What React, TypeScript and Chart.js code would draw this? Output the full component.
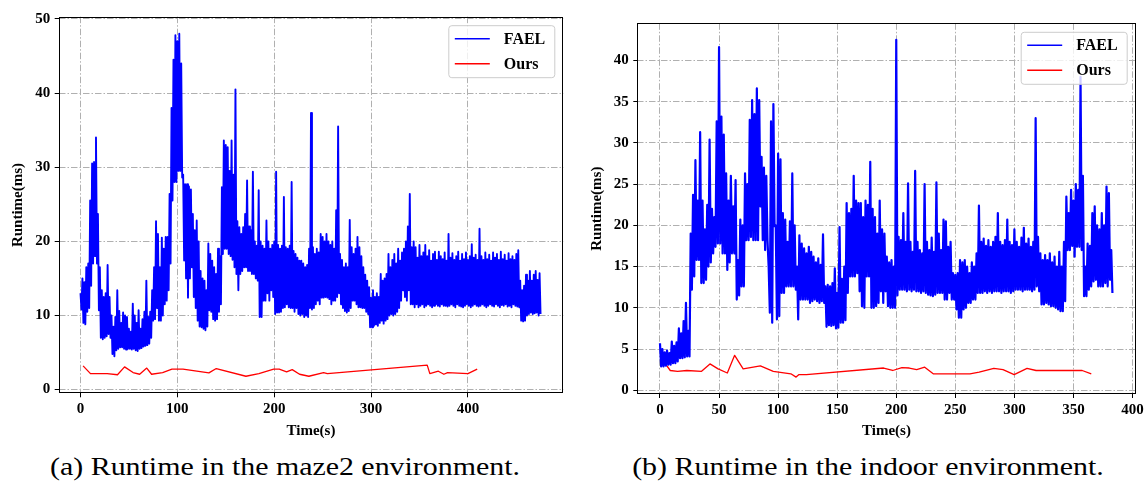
import React, { useEffect, useRef } from "react";
import { Chart, registerables } from "chart.js";

Chart.register(...registerables);

// ---------- Shared labels ----------
const seriesLabels = ["FAEL", "Ours"];
const xAxisTitle = "Time(s)";
const yAxisTitle = "Runtime(ms)";
const captions = [
  "(a) Runtime in the maze2 environment.",
  "(b) Runtime in the indoor environment.",
];

// ---------- Panel (a): maze2 ----------
const mazeStep = 2; // seconds between successive high readings of FAEL
const mazeFaelHigh = [
  13, 15, 14.5, 16.5, 17, 25.5, 30.5, 30.7, 34, 23.7,
  16.5, 13.4, 12.5, 13, 16.8, 12.5, 10, 8.5, 9.8, 13.4,
  10.6, 9, 10.4, 10, 9.8, 8.2, 7.8, 11.6, 10, 9,
  10.7, 8.2, 9.5, 10.5, 14.7, 9.8, 10.5, 13.4, 16.5, 22.7,
  21, 16.5, 20.5, 19, 20.6, 20.6, 26.4, 38, 44.5, 47.8,
  47, 48, 44, 29, 27.7, 27.7, 27.4, 27, 23.7, 21.5,
  22.8, 20, 16, 15, 14.7, 13.4, 19.7, 18.3, 17.4, 16.5,
  15.6, 19, 18, 27.3, 33.6, 33, 32.7, 29.5, 33.6, 29,
  40.5, 22.7, 21.9, 21, 21.9, 23.7, 28.2, 22, 21.5, 29.4,
  20, 19.4, 26.9, 20, 19.4, 19, 22.8, 20, 19, 19.5,
  20, 29.4, 19.5, 19, 19.4, 26, 19.2, 19, 19.4, 28,
  18.7, 18.3, 17.8, 17.4, 17.4, 17, 16.5, 16.8, 19, 37.3,
  19.2, 18.3, 19, 18.5, 21, 20.6, 20, 21, 20, 19.5,
  20, 19, 24.2, 35.5, 18.3, 17.5, 16.5, 17, 16.5, 22.9,
  19.2, 18.3, 19, 20.6, 19.2, 18, 16.5, 15.5, 14.7, 13.8,
  12.4, 13.4, 12.5, 13, 12.5, 15.6, 14.7, 15, 15.6, 18.3,
  16.5, 17.5, 18.3, 17, 19, 17.4, 18.5, 19, 20, 22,
  26.4, 19.2, 20, 19.2, 17.8, 19.5, 18, 18.5, 19.5, 18,
  18.8, 17.4, 18.3, 18.6, 17.5, 18.6, 18, 17.6, 18.5, 17.4,
  21, 17.8, 18.4, 17.5, 18, 18.6, 17.4, 18.3, 17.6, 18.5,
  17.5, 18, 19.6, 17.8, 18.2, 17.5, 21.7, 18, 17.5, 18.5,
  17.6, 18.2, 17.4, 18.5, 17.8, 18.3, 17.5, 18.6, 17.6, 18.2,
  17.4, 18.4, 17.6, 18, 17.5, 18.3, 18.8, 14.7, 13.4, 14,
  15.5, 14.7, 16, 14.7, 15.5, 16, 14.8, 15.7,
];
const mazeFaelLow = [
  10.8, 9, 8.8, 10.5, 11, 14, 17, 18, 17, 10.7,
  7, 6.8, 7, 7.2, 7.5, 7, 4.8, 4.5, 5.3, 5.5,
  5.7, 5.7, 5.5, 5.4, 5.5, 5.5, 5.4, 5.5, 5.3, 5.2,
  5.5, 5.6, 5.8, 5.9, 6, 6.2, 7, 9.3, 9.5, 11,
  9.3, 9.3, 10, 11.5, 12, 13.4, 17, 25.5, 28, 28,
  29.5, 29.5, 28.6, 17.4, 15, 12.4, 15, 16.5, 12.5, 11,
  9.3, 8.5, 8.4, 8.2, 8, 8.5, 10.7, 10.5, 9.5, 9.3,
  9.5, 10.5, 11.5, 18.3, 19, 19, 18.3, 18, 17.5, 16.5,
  15.6, 13.4, 15.6, 16, 16.5, 16.5, 16, 16, 15.6, 15.6,
  15, 14.7, 9.8, 9.8, 12, 12, 13, 12, 13.4, 12.5,
  10.2, 10.4, 10.4, 10.5, 11, 11.1, 11.5, 11.1, 11, 11,
  10.5, 11, 10.2, 10, 10.2, 9.8, 10, 9.8, 11, 10.8,
  11, 11.5, 12, 11.5, 12.4, 12.4, 12.5, 12.4, 12.2, 11.5,
  12, 12, 12.5, 13, 11.5, 11, 10.6, 10.4, 10.6, 11,
  12, 12, 11.5, 11.1, 11.1, 11, 11, 10.5, 10.2, 8.4,
  8.4, 8.6, 8.8, 8.6, 9, 9.3, 8.9, 9.3, 9.5, 10,
  10.2, 10, 10.2, 10.5, 11, 12, 13.4, 12.5, 12, 13.4,
  11.5, 11.5, 11.1, 11.5, 11.1, 11.3, 11.5, 11.1, 11.3, 11.5,
  11.3, 11.1, 11.3, 11.5, 11.3, 11.2, 11.5, 11.3, 11.3, 11.2,
  11.3, 11.5, 11.3, 11.1, 11.5, 11.3, 11.2, 11.1, 11.3, 11.5,
  11.3, 11.1, 11.3, 11.5, 11.3, 11.2, 11.3, 11.5, 11.3, 11.1,
  11.3, 11.5, 11.3, 11.2, 11.5, 11.3, 11.1, 11.4, 11.3, 11.5,
  11.2, 11.3, 11.1, 11.5, 11.3, 11.2, 11.1, 9.3, 9.2, 9.3,
  10, 10.2, 10.4, 10.2, 10.3, 10.4, 10, 10.2,
];
const mazeOursTime = [
  2.7, 10.3, 27.5, 38.2, 45.5, 54.3, 61.1, 68.4, 73.4, 84.8, 94.4, 105.8,
  132.6, 140.2, 170.8, 184.2, 199.5, 205.2, 212.8, 218.6, 226.2, 235.8, 251,
  254.9, 358, 360.7, 369.5, 375.2, 379, 400, 409.6,
];
const mazeOursValue = [
  3.2, 2.16, 2.16, 2.0, 3.06, 2.3, 2.07, 2.9, 2.07, 2.3, 2.75, 2.75,
  2.25, 2.84, 1.8, 2.16, 2.75, 2.75, 2.4, 2.7, 2.07, 1.8, 2.3,
  2.16, 3.3, 2.16, 2.48, 2.07, 2.3, 2.16, 2.75,
];
const mazeXTicks = [0, 100, 200, 300, 400];
const mazeYTicks = [0, 10, 20, 30, 40, 50];
const mazeXRange = [-22.5, 498.5];
const mazeYRange = [-0.5, 50.3];

// ---------- Panel (b): indoor ----------
const indoorStep = 2;
const indoorFaelHigh = [
  5.7, 5.0, 4.6, 4.8, 4.5, 5.9, 5.4, 5.8, 7.5, 6.9,
  8.4, 10.6, 7.2, 19.0, 23.7, 27.9, 23.0, 31.3, 23.0, 19.5,
  22.5, 30.4, 22.0, 21.0, 32.6, 41.6, 33.2, 31.0, 26.3, 23.0,
  26.0, 22.3, 25.5, 15.8, 20.7, 20.0, 26.3, 25.0, 32.8, 35.2,
  33.5, 36.6, 35.2, 28.3, 27.0, 26.0, 15.0, 32.6, 34.7, 20.0,
  28.7, 28.0, 21.5, 20.7, 18.0, 20.5, 26.3, 20.0, 15.0, 18.8,
  17.8, 17.2, 16.6, 17.4, 16.8, 16.2, 15.5, 16.0, 15.2, 18.9,
  12.6, 12.8, 12.6, 13.0, 14.8, 11.8, 19.8, 13.5, 15.0, 22.7,
  21.5, 22.0, 26.0, 23.0, 22.7, 22.7, 21.0, 23.0, 22.5, 27.7,
  22.0, 21.0, 19.0, 23.0, 19.5, 19.0, 16.2, 15.5, 15.8, 15.0,
  42.5, 18.6, 18.2, 21.5, 18.0, 25.1, 18.0, 16.8, 26.6, 18.0,
  17.0, 16.6, 25.0, 18.0, 17.0, 18.5, 16.8, 25.2, 19.0, 17.0,
  20.7, 20.5, 17.4, 18.0, 14.2, 14.0, 14.2, 15.8, 15.5, 15.8,
  15.0, 14.2, 15.5, 15.0, 16.6, 22.4, 18.0, 18.4, 17.5, 18.2,
  17.4, 18.0, 18.6, 21.5, 18.0, 17.6, 18.2, 20.7, 18.0, 17.6,
  19.5, 18.0, 17.4, 18.5, 19.7, 17.8, 18.4, 17.4, 18.0, 33.0,
  18.6, 16.6, 15.8, 16.4, 15.8, 16.6, 15.5, 16.2, 15.0, 16.8,
  15.0, 18.0, 23.5, 21.5, 24.3, 23.0, 25.0, 24.3, 38.0, 26.0,
  15.0, 17.8, 17.5, 21.5, 22.3, 20.0, 19.5, 21.5, 20.0, 24.7,
  23.9, 17.0,
];
const indoorFaelLow = [
  2.9, 2.9, 3.0, 3.1, 3.1, 3.3, 3.3, 3.5, 3.9, 3.9,
  4.0, 4.1, 4.1, 12.2, 13.8, 15.8, 15.8, 13.0, 13.0, 13.4,
  15.0, 15.5, 16.6, 17.4, 17.8, 17.8, 16.6, 16.6, 14.6, 15.5,
  16.6, 16.6, 11.0, 11.5, 12.6, 12.6, 18.2, 18.2, 18.6, 18.2,
  18.2, 18.2, 22.3, 18.2, 17.0, 18.2, 9.4, 8.2, 19.9, 8.6,
  9.0, 11.8, 11.8, 12.6, 12.6, 12.6, 12.6, 12.2, 8.6, 11.0,
  11.0, 11.0, 11.0, 10.6, 10.8, 11.0, 10.8, 10.6, 10.8, 10.6,
  7.7, 7.9, 7.8, 7.9, 7.5, 7.6, 8.2, 8.2, 8.5, 11.8,
  13.8, 13.8, 13.8, 14.2, 12.0, 10.2, 10.0, 13.8, 13.8, 10.0,
  10.0, 10.2, 10.6, 12.0, 10.6, 12.0, 10.2, 10.0, 10.0, 10.0,
  11.5, 12.2, 12.2, 12.2, 12.0, 12.2, 12.0, 12.2, 12.0, 12.0,
  11.8, 12.0, 11.8, 11.6, 11.5, 11.4, 11.6, 11.8, 11.8, 11.8,
  11.0, 11.0, 11.8, 11.0, 11.0, 9.8, 8.8, 8.8, 9.8, 10.0,
  10.6, 10.6, 11.0, 11.0, 11.8, 11.8, 11.8, 12.0, 11.8, 12.0,
  11.8, 12.0, 12.0, 12.0, 11.8, 12.0, 12.0, 12.0, 11.8, 12.0,
  12.2, 12.2, 12.2, 12.0, 12.2, 12.2, 12.2, 12.0, 12.2, 12.6,
  12.0, 10.4, 10.4, 10.6, 10.4, 10.2, 10.2, 10.0, 9.8, 9.6,
  9.6, 10.8, 17.0, 17.0, 17.5, 16.2, 17.4, 17.4, 17.0, 11.4,
  11.4, 12.2, 12.6, 13.2, 13.4, 12.6, 12.6, 12.6, 13.0, 12.6,
  13.4, 11.8,
];
const indoorOursTime = [
  3.1, 8.7, 14.9, 22.7, 35.2, 42.3, 49.2, 57, 63.2, 70.4, 85, 95.9, 110.8,
  115.2, 117.7, 123.9, 189.3, 197, 204.8, 211, 217.3, 224.1, 231.3, 262.4,
  270.2, 282.6, 290.4, 299.8, 310.7, 318.4, 357.4, 365.1,
];
const indoorOursValue = [
  3.5, 2.4, 2.3, 2.4, 2.3, 3.2, 2.6, 2.1, 4.24, 2.6, 2.95, 2.3, 2.0,
  1.6, 1.9, 1.9, 2.7, 2.4, 2.75, 2.7, 2.5, 2.8, 2.0, 2.0,
  2.2, 2.65, 2.5, 1.9, 2.65, 2.4, 2.4, 2.0,
];
const indoorXTicks = [0, 50, 100, 150, 200, 250, 300, 350, 400];
const indoorYTicks = [0, 5, 10, 15, 20, 25, 30, 35, 40];
const indoorXRange = [-19.2, 402.7];
const indoorYRange = [-0.45, 44.5];

// ---------- Helpers ----------
type Pt = { x: number; y: number };

function alternate(step: number, hi: number[], lo: number[]): Pt[] {
  const pts: Pt[] = [];
  hi.forEach((h, i) => {
    pts.push({ x: i * step, y: h });
    pts.push({ x: i * step + step / 2, y: lo[i] });
  });
  return pts;
}

function pairs(xs: number[], ys: number[]): Pt[] {
  return xs.map((x, i) => ({ x, y: ys[i] }));
}

const SERIF = "'Liberation Serif', 'Times New Roman', serif";
const tickFont = { family: SERIF, size: 15, weight: "bold" as const };
const titleFont = { family: SERIF, size: 15, weight: "bold" as const };
const GRID_DASH = [6.5, 2, 1.5, 2];

const frameLegendPlugin = {
  id: "frameLegend",
  afterDraw(chart: any) {
    const { ctx, chartArea } = chart;
    const { left, top, right, bottom } = chartArea;
    ctx.save();
    // axes frame
    ctx.strokeStyle = "#000";
    ctx.lineWidth = 1;
    ctx.setLineDash([]);
    const l = Math.round(left) + 0.5;
    const t = Math.round(top) + 0.5;
    const r = Math.round(right) - 0.5;
    const b = Math.round(bottom) - 0.5;
    ctx.strokeRect(l, t, r - l, b - t);

    // legend box (top-right inside axes)
    const w = 106;
    const h = 52;
    const x0 = right - 8.5 - w;
    const y0 = top + 9;
    ctx.beginPath();
    (ctx as any).roundRect(x0, y0, w, h, 3);
    ctx.fillStyle = "rgba(255,255,255,0.8)";
    ctx.fill();
    ctx.strokeStyle = "#cccccc";
    ctx.lineWidth = 1;
    ctx.stroke();

    chart.data.datasets.forEach((ds: any, i: number) => {
      const yy = y0 + 13 + i * 25;
      ctx.beginPath();
      ctx.strokeStyle = ds.borderColor;
      ctx.lineWidth = 1.5;
      ctx.moveTo(x0 + 6, yy);
      ctx.lineTo(x0 + 41, yy);
      ctx.stroke();
      ctx.fillStyle = "#000";
      ctx.font = `bold 16px ${SERIF}`;
      ctx.textAlign = "left";
      ctx.textBaseline = "middle";
      ctx.fillText(ds.label, x0 + 55, yy + 1);
    });
    ctx.restore();
  },
};

type PanelProps = {
  left: number;
  width: number;
  height: number;
  area: { left: number; top: number; right: number; bottom: number };
  xRange: number[];
  yRange: number[];
  xTicks: number[];
  yTicks: number[];
  fael: Pt[];
  ours: Pt[];
  yTitlePad: number;
  faelWidth: number;
};

function Panel(props: PanelProps) {
  const ref = useRef<HTMLCanvasElement | null>(null);
  useEffect(() => {
    if (!ref.current) return;
    const { area, width, height } = props;
    const gridOpts = {
      color: "#b0b0b0",
      lineWidth: 1,
      drawTicks: true,
      tickLength: 4,
      tickColor: "#000",
      tickWidth: 1,
      tickBorderDash: [],
    };
    const chart = new Chart(ref.current, {
      type: "line",
      data: {
        datasets: [
          {
            label: seriesLabels[0],
            data: props.fael,
            borderColor: "#0000ff",
            borderWidth: props.faelWidth,
            pointRadius: 0,
            tension: 0,
            fill: false,
            borderJoinStyle: "round",
          },
          {
            label: seriesLabels[1],
            data: props.ours,
            borderColor: "#ff0000",
            borderWidth: 1.3,
            pointRadius: 0,
            tension: 0,
            fill: false,
            borderJoinStyle: "round",
          },
        ],
      },
      options: {
        animation: false,
        responsive: false,
        maintainAspectRatio: false,
        events: [],
        layout: {
          padding: {
            left: 0,
            top: area.top,
            right: width - area.right,
            bottom: 0,
          },
        },
        plugins: {
          legend: { display: false },
          tooltip: { enabled: false },
        },
        scales: {
          x: {
            type: "linear",
            position: "bottom",
            min: props.xRange[0],
            max: props.xRange[1],
            afterBuildTicks: (s: any) => {
              s.ticks = props.xTicks.map((v) => ({ value: v }));
            },
            afterFit: (s: any) => {
              s.height = height - area.bottom;
            },
            ticks: {
              color: "#000",
              font: tickFont,
              padding: 3,
              maxRotation: 0,
              autoSkip: false,
              includeBounds: false,
              callback: (v: any) => String(v),
            },
            grid: gridOpts,
            border: { display: false, dash: GRID_DASH },
            title: {
              display: true,
              text: xAxisTitle,
              color: "#000",
              font: titleFont,
              padding: { top: 0, bottom: 10 },
            },
          },
          y: {
            type: "linear",
            position: "left",
            min: props.yRange[0],
            max: props.yRange[1],
            afterBuildTicks: (s: any) => {
              s.ticks = props.yTicks.map((v) => ({ value: v }));
            },
            afterFit: (s: any) => {
              s.width = area.left;
            },
            ticks: {
              color: "#000",
              font: tickFont,
              padding: 4.5,
              autoSkip: false,
              includeBounds: false,
              callback: (v: any) => String(v),
            },
            grid: gridOpts,
            border: { display: false, dash: GRID_DASH },
            title: {
              display: true,
              text: yAxisTitle,
              color: "#000",
              font: titleFont,
              padding: { top: props.yTitlePad, bottom: 0 },
            },
          },
        },
      } as any,
      plugins: [frameLegendPlugin],
    });
    return () => chart.destroy();
  }, []);
  return (
    <canvas
      ref={ref}
      width={props.width}
      height={props.height}
      style={{
        position: "absolute",
        left: props.left,
        top: 0,
        width: props.width,
        height: props.height,
      }}
    />
  );
}

const captionStyle = (center: number): React.CSSProperties => ({
  position: "absolute",
  left: center - 300,
  width: 600,
  top: 452,
  textAlign: "center",
  fontFamily: SERIF,
  fontSize: 26,
  lineHeight: "30px",
  color: "#000",
  transform: "scaleX(1.15)",
  whiteSpace: "nowrap",
});

export default function App() {
  const mazeFael = alternate(mazeStep, mazeFaelHigh, mazeFaelLow);
  const mazeOurs = pairs(mazeOursTime, mazeOursValue);
  const indoorFael = alternate(indoorStep, indoorFaelHigh, indoorFaelLow);
  const indoorOurs = pairs(indoorOursTime, indoorOursValue);
  return (
    <div
      style={{
        position: "absolute",
        left: 0,
        top: 0,
        width: 1148,
        height: 484,
        background: "#fff",
        overflow: "hidden",
      }}
    >
      <Panel
        left={0}
        width={575}
        height={450}
        area={{ left: 58.7, top: 16.7, right: 563.3, bottom: 393.3 }}
        xRange={mazeXRange}
        yRange={mazeYRange}
        xTicks={mazeXTicks}
        yTicks={mazeYTicks}
        fael={mazeFael}
        ours={mazeOurs}
        yTitlePad={9.5}
        faelWidth={1.9}
      />
      <Panel
        left={575}
        width={573}
        height={450}
        area={{ left: 62.3, top: 23.3, right: 560.7, bottom: 394 }}
        xRange={indoorXRange}
        yRange={indoorYRange}
        xTicks={indoorXTicks}
        yTicks={indoorYTicks}
        fael={indoorFael}
        ours={indoorOurs}
        yTitlePad={13.5}
        faelWidth={2.2}
      />
      <div style={captionStyle(285)}>{captions[0]}</div>
      <div style={captionStyle(867.5)}>{captions[1]}</div>
    </div>
  );
}
